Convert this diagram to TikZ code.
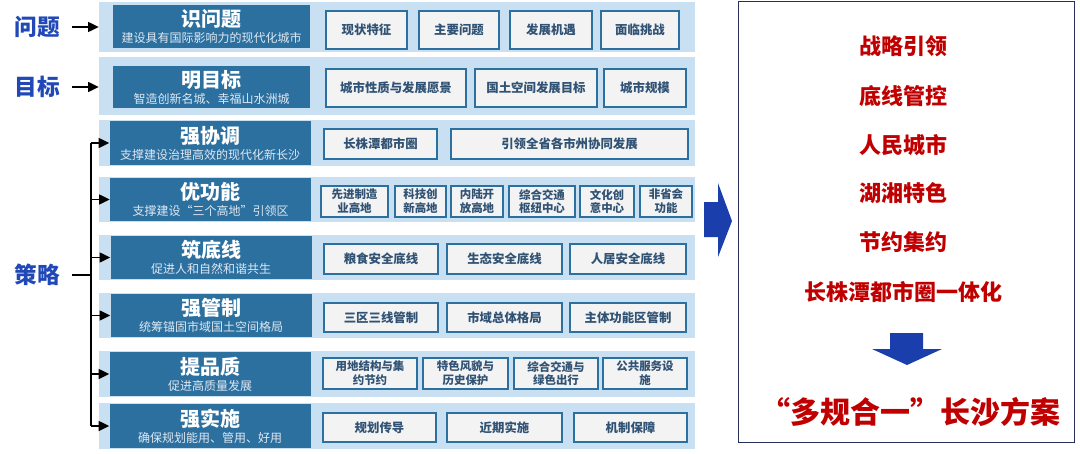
\documentclass[tikz,border=0pt]{standalone}
\usepackage{fontspec}
\setmainfont{Noto Sans CJK SC}
\usepackage{xcolor}
\usepackage{tikz}
\usetikzlibrary{arrows.meta,positioning}

\definecolor{bandblue}{RGB}{201,223,242}
\definecolor{headblue}{RGB}{44,112,160}
\definecolor{subtext}{RGB}{222,232,242}
\definecolor{itemfill}{RGB}{243,243,243}
\definecolor{itemtext}{RGB}{48,82,116}
\definecolor{labelblue}{RGB}{32,72,182}
\definecolor{resred}{RGB}{192,0,0}
\definecolor{bigarrow}{RGB}{26,62,172}
\definecolor{framenavy}{RGB}{40,48,88}

\begin{document}
\begin{tikzpicture}[x=0.75pt, y=-0.75pt,
    band/.style={rectangle, fill=bandblue, inner sep=0pt,
                 minimum width=447pt, minimum height=#1*0.75pt},
    head/.style 2 args={rectangle, fill=headblue, text=white, inner sep=0pt,
                 minimum width=#1*0.75pt, minimum height=#2*0.75pt, align=center},
    item/.style 2 args={rectangle, draw=headblue, line width=1.8pt, fill=itemfill,
                 inner sep=0pt, minimum width=#1*0.75pt, minimum height=#2*0.75pt,
                 align=center, text=itemtext, font=\fontsize{9.3}{11}\selectfont\bfseries},
    item2/.style 2 args={item={#1}{#2}, font=\fontsize{8.6}{10.4}\selectfont\bfseries},
    side/.style={font=\fontsize{17}{18}\selectfont\bfseries, text=labelblue, inner xsep=9pt},
    arrow/.style={-{Triangle[length=8pt, width=7.5pt]}, line width=1.1pt, black},
    result/.style={font=\fontsize{16.5}{18}\selectfont\bfseries, text=resred}
]
    \useasboundingbox (0,0) rectangle (1080,453);

    % bands
    \node[band=50] (b1) at (397, 27)    {};
    \node[band=58] (b2) at (397, 86)    {};
    \node[band=46] (b3) at (397, 143)   {};
    \node[band=45] (b4) at (397, 199.5) {};
    \node[band=45] (b5) at (397, 257.5) {};
    \node[band=45] (b6) at (397, 315.5) {};
    \node[band=46] (b7) at (397, 374)   {};
    \node[band=46] (b8) at (397, 426)   {};

    % heads
    \node[head={197}{43}] (h1) at (211.5, 26.5)
        {{\fontsize{15}{16}\selectfont\bfseries 识问题}\\{\fontsize{9}{10}\selectfont\color{subtext}建设具有国际影响力的现代化城市}};
    \node[head={197}{42}] (h2) at (211.5, 87)
        {{\fontsize{15}{16}\selectfont\bfseries 明目标}\\{\fontsize{9}{10}\selectfont\color{subtext}智造创新名城、幸福山水洲城}};
    \node[head={201}{44}] (h3) at (210, 143)
        {{\fontsize{15}{16}\selectfont\bfseries 强协调}\\{\fontsize{9}{10}\selectfont\color{subtext}支撑建设治理高效的现代化新长沙}};
    \node[head={201}{43}] (h4) at (210.5, 199.5)
        {{\fontsize{15}{16}\selectfont\bfseries 优功能}\\{\fontsize{9}{10}\selectfont\color{subtext}支撑建设“三个高地”引领区}};
    \node[head={201}{43}] (h5) at (211, 257.5)
        {{\fontsize{15}{16}\selectfont\bfseries 筑底线}\\{\fontsize{9}{10}\selectfont\color{subtext}促进人和自然和谐共生}};
    \node[head={201}{43}] (h6) at (211, 315.5)
        {{\fontsize{15}{16}\selectfont\bfseries 强管制}\\{\fontsize{9}{10}\selectfont\color{subtext}统筹锚固市域国土空间格局}};
    \node[head={201}{44}] (h7) at (210, 374)
        {{\fontsize{15}{16}\selectfont\bfseries 提品质}\\{\fontsize{9}{10}\selectfont\color{subtext}促进高质量发展}};
    \node[head={201}{44}] (h8) at (210, 426)
        {{\fontsize{15}{16}\selectfont\bfseries 强实施}\\{\fontsize{9}{10}\selectfont\color{subtext}确保规划能用、管用、好用}};

    % items
    \node[item={81}{38}]  (i11) at (366.5, 30) {现状特征};
    \node[item={80}{38}]  (i12) at (459, 30)   {主要问题};
    \node[item={82}{38}]  (i13) at (551, 30)   {发展机遇};
    \node[item={78}{38}]  (i14) at (640, 30)   {面临挑战};

    \node[item={140}{38}] (i21) at (396, 88)   {城市性质与发展愿景};
    \node[item={122}{38}] (i22) at (536, 88)   {国土空间发展目标};
    \node[item={82}{38}]  (i23) at (645, 88)   {城市规模};

    \node[item={113}{30}] (i31) at (380.5, 144) {长株潭都市圈};
    \node[item={237}{30}] (i32) at (569.5, 144) {引领全省各市州协同发展};

    \node[item2={67}{31}] (i41) at (354.5, 201.5) {先进制造\\业高地};
    \node[item2={51}{31}] (i42) at (420.5, 201.5) {科技创\\新高地};
    \node[item2={52}{31}] (i43) at (477, 201.5)   {内陆开\\放高地};
    \node[item2={66}{31}] (i44) at (542, 201.5)   {综合交通\\枢纽中心};
    \node[item2={54}{31}] (i45) at (607, 201.5)   {文化创\\意中心};
    \node[item2={52}{31}] (i46) at (666, 201.5)   {非省会\\功能};

    \node[item={114}{30}] (i51) at (381, 259)   {粮食安全底线};
    \node[item={115}{30}] (i52) at (504.5, 259) {生态安全底线};
    \node[item={116}{30}] (i53) at (628, 259)   {人居安全底线};

    \node[item={114}{29}] (i61) at (381, 317.5)   {三区三线管制};
    \node[item={115}{29}] (i62) at (504.5, 317.5) {市域总体格局};
    \node[item={116}{29}] (i63) at (628, 317.5)   {主体功能区管制};

    \node[item2={94}{31}] (i71) at (370, 373.5)   {用地结构与集\\约节约};
    \node[item2={85}{31}] (i72) at (465.5, 373.5) {特色风貌与\\历史保护};
    \node[item2={84}{31}] (i73) at (556, 373.5)   {综合交通与\\绿色出行};
    \node[item2={84}{31}] (i74) at (645, 373.5)   {公共服务设\\施};

    \node[item={113}{29}] (i81) at (379.5, 427.5) {规划传导};
    \node[item={115}{29}] (i82) at (504.5, 427.5) {近期实施};
    \node[item={113}{29}] (i83) at (630.5, 427.5) {机制保障};

    % left labels
    \node[side] (wt) at (37.5, 27)  {问题};
    \node[side] (mb) at (37.5, 87)  {目标};
    \node[side] (cl) at (37.5, 275) {策略};
    \coordinate (spine) at (91, 275);

    \draw[arrow] (wt.east) -- (b1.west |- wt.east);
    \draw[arrow] (mb.east) -- (b2.west |- mb.east);
    \draw[line width=1.1pt] (cl.east) -- (spine);
    \draw[line width=1.1pt] (spine |- h3) -- (spine |- h8);
    \draw[arrow] (spine |- h3) -- (h3.west);
    \draw[arrow] (spine |- h4) -- (h4.west);
    \draw[arrow] (spine |- h5) -- (h5.west);
    \draw[arrow] (spine |- h6) -- (h6.west);
    \draw[arrow] (spine |- h7) -- (h7.west);
    \draw[arrow] (spine |- h8) -- (h8.west);

    % block arrow to the result
    \fill[bigarrow] (704,202) -- (718,202) -- (718,183) -- (732,221)
        -- (718,257) -- (718,237) -- (704,237) -- cycle;

    % result frame
    \node[rectangle, draw=framenavy, line width=1pt, inner sep=0pt,
          minimum width=252pt, minimum height=331pt] (res) at (906.5, 222) {};
    \node[result] (r1) at (903, 46)  {战略引领};
    \node[result] (r2) at (903, 96)  {底线管控};
    \node[result] (r3) at (903, 145) {人民城市};
    \node[result] (r4) at (903, 193) {湖湘特色};
    \node[result] (r5) at (903, 242) {节约集约};
    \node[result] (r6) at (903, 292) {长株潭都市圈一体化};
    \fill[bigarrow] (890,333) -- (923,333) -- (923,349) -- (942,349)
        -- (907,365) -- (872,349) -- (890,349) -- cycle;
    \node[result, font=\fontsize{22.5}{26}\selectfont\bfseries] (fin) at (910, 412)
        {“多规合一”长沙方案};
\end{tikzpicture}
\end{document}
